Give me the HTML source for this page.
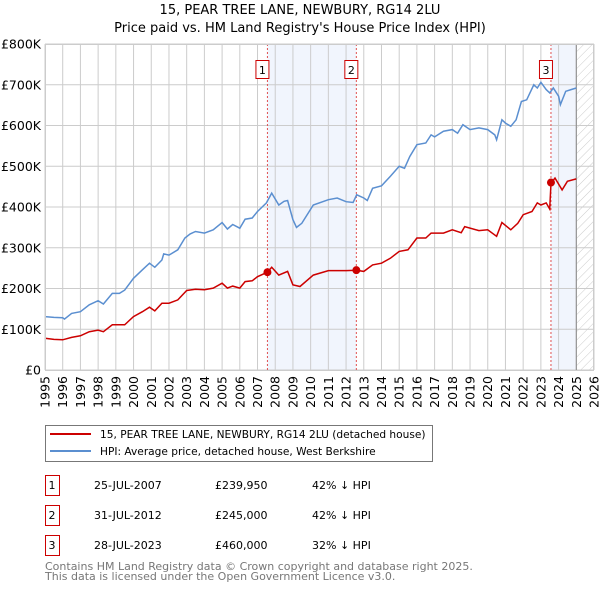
<!DOCTYPE html>
<html><head><meta charset="utf-8"><style>
body{margin:0;background:#fff;width:600px;height:590px;overflow:hidden}
svg{font-family:"DejaVu Sans","Liberation Sans",sans-serif}
</style></head><body>
<svg id="c" width="600" height="590" viewBox="0 0 600 590" xmlns="http://www.w3.org/2000/svg">
<defs><pattern id="hatch" width="6" height="6" patternUnits="userSpaceOnUse" patternTransform="rotate(45)"><line x1="0" y1="0" x2="0" y2="6" stroke="#ccc" stroke-width="1"/></pattern></defs>
<text x="300" y="14" text-anchor="middle" font-size="13">15, PEAR TREE LANE, NEWBURY, RG14 2LU</text>
<text x="300" y="32" text-anchor="middle" font-size="13">Price paid vs. HM Land Registry's House Price Index (HPI)</text>
<g id="plot"></g>
<g>
<rect x="45.5" y="425.5" width="387" height="36" fill="#fff" stroke="#777"/>
<line x1="50" y1="434" x2="91" y2="434" stroke="#cc0000" stroke-width="2"/>
<text x="100" y="438" font-size="10.6">15, PEAR TREE LANE, NEWBURY, RG14 2LU (detached house)</text>
<line x1="50" y1="451" x2="91" y2="451" stroke="#5b8fd0" stroke-width="2"/>
<text x="100" y="455" font-size="10.6">HPI: Average price, detached house, West Berkshire</text>
</g>
<g id="table" font-size="11"></g>
<text x="45" y="570" font-size="11" fill="#777">Contains HM Land Registry data © Crown copyright and database right 2025.</text>
<text x="45" y="580" font-size="11" fill="#777">This data is licensed under the Open Government Licence v3.0.</text>
</svg>
<script>
const hpiYears=[1995,1995.5,1996,1996.1,1996.5,1997,1997.5,1998,1998.3,1998.8,1999.2,1999.5,2000,2000.5,2000.9,2001.2,2001.6,2001.7,2002,2002.5,2002.9,2003.2,2003.5,2004,2004.5,2005,2005.3,2005.6,2006,2006.3,2006.7,2007,2007.5,2007.8,2008.2,2008.5,2008.7,2009,2009.2,2009.5,2010.15,2011,2011.5,2012,2012.4,2012.6,2013,2013.2,2013.5,2014,2014.5,2015,2015.3,2015.6,2016,2016.5,2016.8,2017,2017.5,2018,2018.3,2018.6,2019,2019.5,2020,2020.4,2020.5,2020.8,2021,2021.3,2021.6,2021.9,2022.2,2022.6,2022.8,2023,2023.3,2023.5,2023.7,2024,2024.1,2024.4,2024.7,2025];
const hpiValues=[131,129,128,125,139,143,160,170,162,188,188,196,225,246,262,252,270,285,282,295,324,334,340,336,344,362,346,357,348,370,373,389,410,434,405,414,416,369,350,360,405,418,422,413,411,430,422,416,446,452,475,500,495,524,553,557,577,572,586,590,581,602,590,594,590,577,565,614,606,598,614,659,663,700,692,706,688,680,692,672,651,684,688,692];
const priceYears=[1995,1995.5,1996,1996.5,1997,1997.5,1998,1998.3,1998.8,1999.5,2000,2000.5,2000.9,2001.2,2001.6,2002,2002.5,2003,2003.5,2004,2004.5,2005,2005.3,2005.6,2006,2006.3,2006.7,2007,2007.56,2007.8,2008.2,2008.7,2009,2009.4,2010.15,2011,2012,2012.58,2013,2013.5,2014,2014.5,2015,2015.5,2016,2016.5,2016.8,2017.5,2018,2018.5,2018.7,2019.5,2020,2020.5,2020.8,2021.3,2021.7,2022,2022.5,2022.8,2023,2023.3,2023.5,2023.57,2023.8,2024.2,2024.5,2025];
const priceValues=[78,75,74,80,84,94,98,94,111,111,131,143,154,145,164,164,172,195,198,197,201,213,201,206,201,217,219,229,240,252,233,242,209,205,233,244,244,245,242,258,262,274,291,295,324,324,336,336,344,337,352,342,344,328,362,344,360,381,389,410,405,410,395,459,471,442,463,469];
const saleYears=[2007.56,2012.58,2023.57];
const saleValues=[239.95,245,460];
const saleLabels=["1","2","3"];
const saleDates=["25-JUL-2007","31-JUL-2012","28-JUL-2023"];
const salePrices=["£239,950","£245,000","£460,000"];
const saleDiffs=["42% ↓ HPI","42% ↓ HPI","32% ↓ HPI"];
const yTicks=[0,100,200,300,400,500,600,700,800];
const yTickLabels=["£0","£100K","£200K","£300K","£400K","£500K","£600K","£700K","£800K"];
const xTicks=[];for(let y=1995;y<=2026;y++)xTicks.push(y);

const X0=45,X1=594,Y0=370,Y1=44;
const xs=y=>X0+(y-1995)/(2026-1995)*(X1-X0);
const ys=v=>Y0-v/800*(Y0-Y1);
const NS="http://www.w3.org/2000/svg";
const plot=document.getElementById('plot');
function mk(tag,attrs,parent){const e=document.createElementNS(NS,tag);for(const k in attrs)e.setAttribute(k,attrs[k]);(parent||plot).appendChild(e);return e;}

let e;
e=mk('rect',{x:xs(saleYears[0]),y:Y1,width:xs(saleYears[1])-xs(saleYears[0]),height:Y0-Y1,fill:'#eef3fc',opacity:0.8});


e=mk('rect',{x:xs(saleYears[2]),y:Y1,width:xs(2025)-xs(saleYears[2]),height:Y0-Y1,fill:'#eef3fc',opacity:0.8});


e=mk('rect',{x:xs(2025),y:Y1,width:X1-xs(2025),height:Y0-Y1,fill:'url(#hatch)'});


xTicks.forEach((t,i)=>{
 e=mk('line',{x1:xs(t),x2:xs(t),y1:Y1,y2:Y0,stroke:'#ccc','stroke-width':1});
 
 
 e=mk('text',{x:0,y:0,transform:`translate(${xs(t)+4.5},${Y0+6}) rotate(-90)`,'text-anchor':'end','font-size':12.5});
 e.textContent=t;
 
 
});
yTicks.forEach((t,i)=>{
 e=mk('line',{x1:X0,x2:X1,y1:ys(t),y2:ys(t),stroke:'#ccc','stroke-width':1});
 
 
 e=mk('text',{x:X0-4,y:ys(t)+4.5,'text-anchor':'end','font-size':12.5});
 e.textContent=yTickLabels[i];
 
 
});
e=mk('line',{x1:xs(2025),x2:xs(2025),y1:Y1,y2:Y0,stroke:'#888','stroke-width':1});


saleYears.forEach((s,i)=>{
 e=mk('line',{x1:xs(s),x2:xs(s),y1:Y1,y2:Y0,stroke:'#e05050','stroke-width':1,'stroke-dasharray':'2,2'});
 
 
});
e=mk('path',{d:hpiYears.map((y,i)=>(i?'L':'M')+xs(y).toFixed(1)+','+ys(hpiValues[i]).toFixed(1)).join(''),fill:'none',stroke:'#5b8fd0','stroke-width':1.5});


e=mk('path',{d:priceYears.map((y,i)=>(i?'L':'M')+xs(y).toFixed(1)+','+ys(priceValues[i]).toFixed(1)).join(''),fill:'none',stroke:'#cc0000','stroke-width':1.5});


saleYears.forEach((s,i)=>{
 e=mk('circle',{cx:xs(s),cy:ys(saleValues[i]),r:4,fill:'#cc0000'});
 
 
 const bx=xs(s)-12;
 e=mk('rect',{x:bx+0.5,y:60.5,width:13,height:18,fill:'#fff',stroke:'#cc0000'});
 
 
 e=mk('text',{x:bx+7,y:74,'text-anchor':'middle','font-size':11});
 e.textContent=saleLabels[i];
 
 
});
e=mk('rect',{x:X0+0.5,y:Y1+0.5,width:X1-X0-1,height:Y0-Y1,fill:'none',stroke:'#ccc'});



const tbl=document.getElementById('table');
saleLabels.forEach((l,i)=>{
 const yy=475+i*30;
 e=mk('rect',{x:45.5,y:yy+0.5,width:14,height:20,fill:'#fff',stroke:'#cc0000'},tbl);
 
 
 const cols=[[52,l,'middle'],[94,saleDates[i],'start'],[215,salePrices[i],'start'],[312,saleDiffs[i],'start']];
 cols.forEach(c=>{
  e=mk('text',{x:c[0],y:yy+14,'text-anchor':c[2]},tbl);
  e.textContent=c[1];
  
  
 });
});
</script>
</body></html>
